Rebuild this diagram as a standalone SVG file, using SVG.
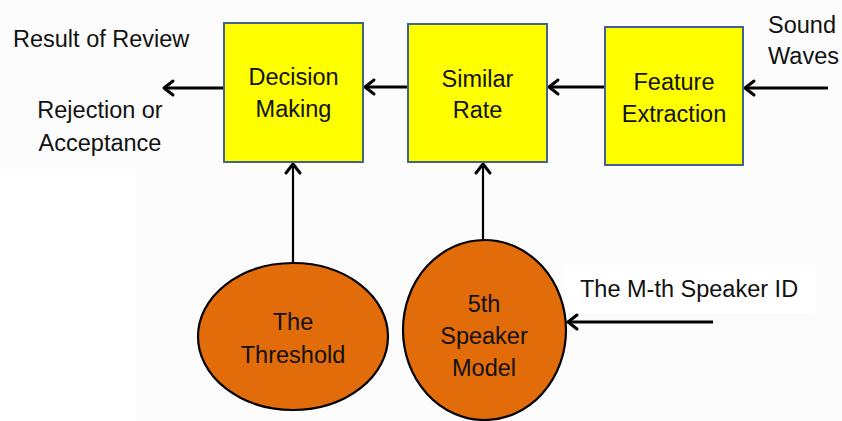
<svg xmlns="http://www.w3.org/2000/svg" width="842" height="421" viewBox="0 0 842 421">
<defs>
<style>
.box{fill:#ffff00;stroke:#41648f;stroke-width:2}
.ell{fill:#e36c0a;stroke:#000;stroke-width:2.2}
.t{font-family:"Liberation Sans",Arial,sans-serif;font-size:23.5px;fill:#111}
.c{text-anchor:middle}
.h{stroke:#000;stroke-width:3.2;fill:none}
.v{stroke:#000;stroke-width:2.2;fill:none}
</style>
<marker id="ah" markerUnits="userSpaceOnUse" markerWidth="20" markerHeight="20" viewBox="-12 -10 14 20" refX="0" refY="0" orient="auto">
<polyline points="-9,-7 0,0 -9,7" fill="none" stroke="#000" stroke-width="3" stroke-linecap="round" stroke-linejoin="round"/>
</marker>
</defs>
<rect x="0" y="0" width="842" height="421" fill="#fcfcfc"/>
<rect x="565" y="266" width="250" height="47" fill="#ffffff"/>
<rect x="0" y="170" width="135" height="251" fill="#ffffff"/>

<g id="connectors">
<line class="h" x1="224" y1="88" x2="164" y2="88" marker-end="url(#ah)"/>
<line class="h" x1="408" y1="87" x2="365" y2="87" marker-end="url(#ah)"/>
<line class="h" x1="605" y1="87" x2="549" y2="87" marker-end="url(#ah)"/>
<line class="h" x1="828" y1="88" x2="745" y2="88" marker-end="url(#ah)"/>
<line class="v" x1="293" y1="263" x2="293" y2="164" marker-end="url(#ah)"/>
<line class="v" x1="483" y1="240" x2="483" y2="164" marker-end="url(#ah)"/>
<line class="h" x1="713" y1="322" x2="568" y2="322" marker-end="url(#ah)"/>
</g>

<g id="decision">
<rect class="box" x="224" y="23" width="139" height="139"/>
<text class="t c" x="293.5" y="85">Decision</text>
<text class="t c" x="293.5" y="117">Making</text>
</g>
<g id="similar">
<rect class="box" x="408" y="24" width="139" height="138"/>
<text class="t c" x="477.5" y="87">Similar</text>
<text class="t c" x="477.5" y="118">Rate</text>
</g>
<g id="feature">
<rect class="box" x="605" y="27" width="138" height="138"/>
<text class="t c" x="674" y="90">Feature</text>
<text class="t c" x="674" y="122">Extraction</text>
</g>
<g id="threshold">
<ellipse class="ell" cx="293" cy="336.5" rx="95" ry="73.5"/>
<text class="t c" x="293" y="330">The</text>
<text class="t c" x="293" y="363">Threshold</text>
</g>
<g id="speaker-model">
<ellipse class="ell" cx="484.5" cy="330" rx="81.5" ry="90"/>
<text class="t c" x="484" y="312">5th</text>
<text class="t c" x="484" y="344">Speaker</text>
<text class="t c" x="484" y="376">Model</text>
</g>
<g id="labels">
<text class="t" x="13" y="47">Result of Review</text>
<text class="t c" x="100" y="118">Rejection or</text>
<text class="t c" x="100" y="151">Acceptance</text>
<text class="t" x="768" y="33">Sound</text>
<text class="t" x="768" y="64">Waves</text>
<text class="t" x="580" y="297">The M-th Speaker ID</text>
</g>
</svg>
